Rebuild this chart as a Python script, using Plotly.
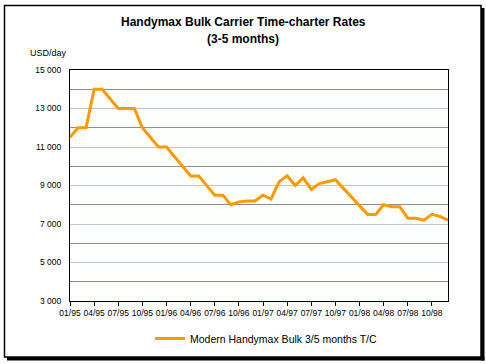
import plotly.graph_objects as go

# ---- data ----
months = list(range(48))  # Jan 1995 .. Dec 1998
rates = [11500, 12000, 12000, 14000, 14000, 13500, 13000, 13000, 13000, 12000, 11500, 11000,
         11000, 10500, 10000, 9500, 9500, 9000, 8500, 8500, 8000, 8150, 8200, 8200,
         8500, 8300, 9200, 9500, 9000, 9400, 8800, 9100, 9200, 9300, 8850, 8400, 8000, 7500,
         7500, 8000, 7900, 7900, 7300, 7300, 7200, 7500, 7400, 7200]
x_tickvals = [0, 3, 6, 9, 12, 15, 18, 21, 24, 27, 30, 33, 36, 39, 42, 45]
x_ticklabels = ["01/95", "04/95", "07/95", "10/95", "01/96", "04/96", "07/96", "10/96",
                "01/97", "04/97", "07/97", "10/97", "01/98", "04/98", "07/98", "10/98"]
y_tickvals = [3000, 5000, 7000, 9000, 11000, 13000, 15000]
y_ticklabels = ["3 000", "5 000", "7 000", "9 000", "11 000", "13 000", "15 000"]
y_minor_vals = [4000, 6000, 8000, 10000, 12000, 14000]
series_name = "Modern Handymax Bulk 3/5 months T/C"

W, H = 486, 364
L, R, T, B = 70, 38, 70, 63
PW, PH = W - L - R, H - T - B
FONT = "Liberation Sans, Arial, sans-serif"


def px(x):
    return (x - L) / PW


def py(y):
    return (H - B - y) / PH


fig = go.Figure()
fig.add_trace(go.Scatter(x=months, y=rates, mode="lines", name=series_name,
                         line=dict(color="#FF9900", width=3)))

fig.update_layout(
    width=W, height=H,
    margin=dict(l=L, r=R, t=T, b=B, autoexpand=False),
    paper_bgcolor="white",
    plot_bgcolor="#FDFFFD",
    font=dict(family=FONT, color="black", size=9),
    showlegend=True,
    legend=dict(orientation="h", x=px(150), xanchor="left", y=py(324), yanchor="top",
                font=dict(size=10.5, family=FONT), bgcolor="rgba(0,0,0,0)"),
    xaxis=dict(range=[0, 47], tickmode="array", tickvals=x_tickvals, ticktext=x_ticklabels,
               ticks="outside", ticklen=4, tickcolor="black", showgrid=False,
               showline=True, linecolor="black", linewidth=1, mirror=True, zeroline=False,
               tickfont=dict(size=8.5), tickangle=0),
    yaxis=dict(range=[3000, 15000], tickmode="array", tickvals=y_tickvals, ticktext=y_ticklabels,
               ticks="", showgrid=True, gridcolor="#C6C3CE", gridwidth=1,
               showline=True, linecolor="black", linewidth=1, mirror=True, zeroline=False,
               tickfont=dict(size=8.5), ticklabelstandoff=6,
               minor=dict(tickmode="array", tickvals=y_minor_vals, showgrid=True,
                          gridcolor="#8E8E8E", gridwidth=1, ticks="")),
)

shapes = [
    dict(type="rect", xref="paper", yref="paper", x0=px(481), x1=px(484.5), y0=py(8), y1=py(360.5),
         fillcolor="black", line=dict(width=0)),
    dict(type="rect", xref="paper", yref="paper", x0=px(7), x1=px(484.5), y0=py(357), y1=py(360.5),
         fillcolor="black", line=dict(width=0)),
    dict(type="rect", xref="paper", yref="paper", x0=px(4.5), x1=px(481), y0=py(5.5), y1=py(357),
         line=dict(color="black", width=1.5)),
]
fig.update_layout(shapes=shapes)

annotations = [
    dict(text="<b>Handymax Bulk Carrier Time-charter Rates</b>", x=px(243), y=py(22),
         xref="paper", yref="paper", xanchor="center", yanchor="middle", showarrow=False,
         font=dict(size=12, family=FONT)),
    dict(text="<b>(3-5 months)</b>", x=px(243), y=py(39),
         xref="paper", yref="paper", xanchor="center", yanchor="middle", showarrow=False,
         font=dict(size=12, family=FONT)),
    dict(text="USD/day", x=px(28), y=py(53), xref="paper", yref="paper",
         xanchor="left", yanchor="middle", showarrow=False, font=dict(size=9, family=FONT)),
]
fig.update_layout(annotations=annotations)

fig.write_html("out.html", config={"displayModeBar": False},
               post_script="document.body.style.margin='0';document.body.style.padding='0';")
